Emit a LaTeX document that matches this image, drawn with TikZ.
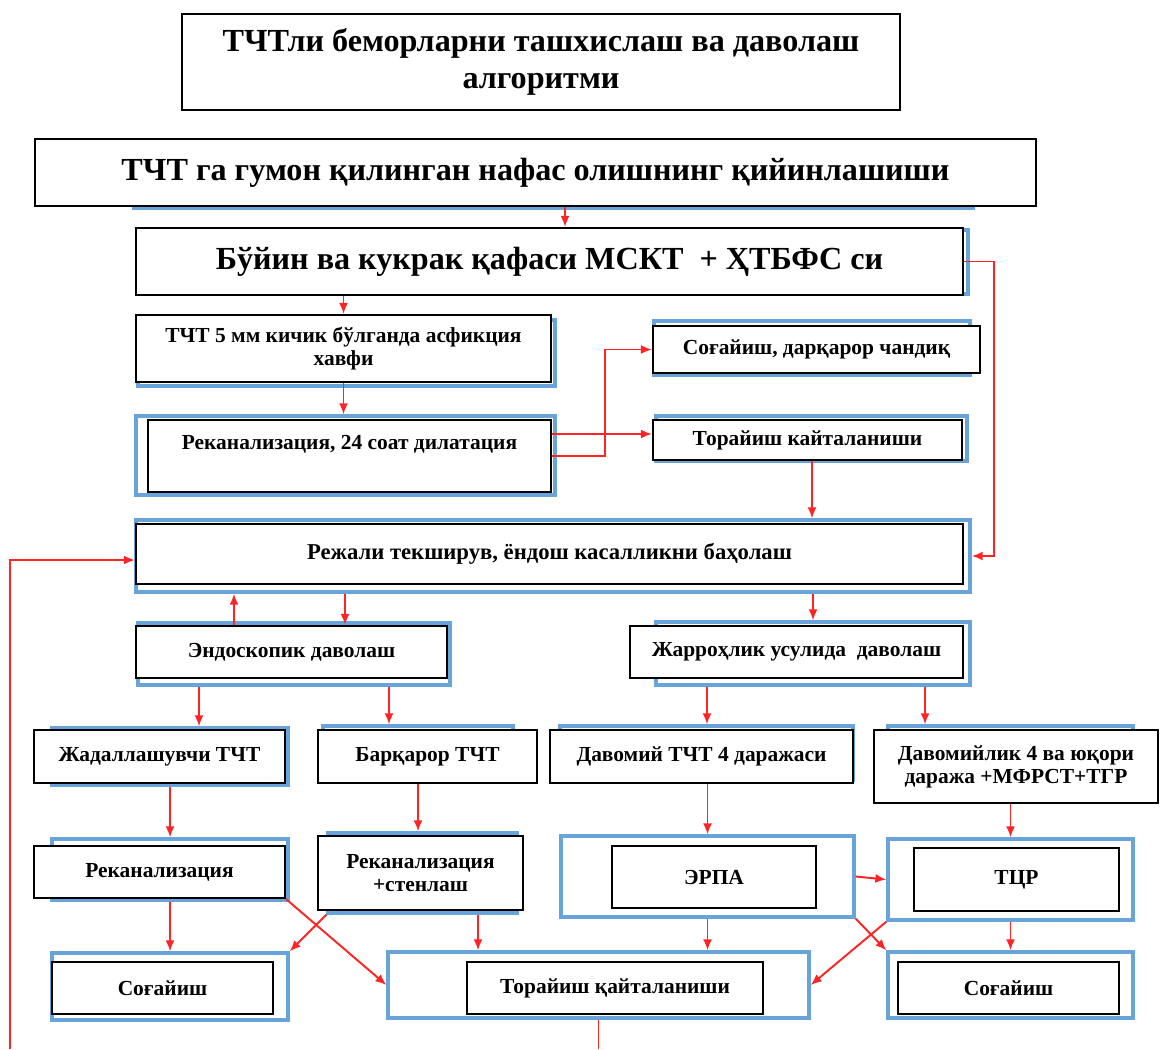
\documentclass[tikz,border=0pt]{standalone}
\usepackage{fontspec}
\setmainfont{Liberation Serif}
\usetikzlibrary{arrows.meta}
\definecolor{frameblue}{RGB}{104,163,218}
\definecolor{linkred}{RGB}{255,35,35}

\begin{document}
\begin{tikzpicture}[
    x=0.2mm, y=-0.2mm,
    font=\bfseries\fontsize{12.2}{13}\selectfont, line width=1.1pt,
    box/.style={draw,fill=white,line width=1.3pt,align=center,inner sep=2pt},
    bluebox/.style={draw=frameblue,line width=1.9pt,inner sep=0pt},
    big/.style={font=\bfseries\fontsize{18.3}{21.5}\selectfont},
    arrow/.style={draw=linkred,-{Latex[length=2.2mm,width=1.8mm]}},
    link/.style={draw=linkred}
]
\path[use as bounding box] (0,0) rectangle (1161,1049);

% blue frames behind the boxes
\node[bluebox,minimum width=167.8mm,minimum height=9.6mm] (suspectF) at (553.5,184.5) {};
\node[bluebox,minimum width=165.6mm,minimum height=12.8mm] (msctF) at (554,262) {};
\node[bluebox,minimum width=83.4mm,minimum height=13.2mm] (riskF) at (346.5,353) {};
\node[bluebox,minimum width=63.2mm,minimum height=10.8mm] (heal0F) at (812,348) {};
\node[bluebox,minimum width=83.8mm,minimum height=15.8mm] (recan24F) at (345.5,455.5) {};
\node[bluebox,minimum width=62.2mm,minimum height=9mm] (narrowF) at (811.5,438.5) {};
\node[bluebox,minimum width=166.8mm,minimum height=14.4mm] (planF) at (553,556) {};
\node[bluebox,minimum width=62.4mm,minimum height=12.4mm] (endoF) at (294,654) {};
\node[bluebox,minimum width=62.8mm,minimum height=12.6mm] (surgF) at (813,653.5) {};
\node[bluebox,minimum width=47.2mm,minimum height=11.4mm] (progF) at (170,756.5) {};
\node[bluebox,minimum width=38mm,minimum height=10.8mm] (stabF) at (418,753) {};
\node[bluebox,minimum width=58.6mm,minimum height=10.8mm] (grade4F) at (706.5,753) {};
\node[bluebox,minimum width=49mm,minimum height=12.8mm] (grade4pF) at (1010.5,758) {};
\node[bluebox,minimum width=47.2mm,minimum height=12.2mm] (recanF) at (170,869.5) {};
\node[bluebox,minimum width=37.8mm,minimum height=16mm] (stentF) at (422.5,873) {};
\node[bluebox,minimum width=58.6mm,minimum height=16.2mm] (erpaF) at (707.5,876.5) {};
\node[bluebox,minimum width=49mm,minimum height=16.2mm] (tcrF) at (1010.5,879.5) {};
\node[bluebox,minimum width=47.2mm,minimum height=13.4mm] (heal1F) at (170,986.5) {};
\node[bluebox,minimum width=84.2mm,minimum height=13.2mm] (tor2F) at (598.5,985) {};
\node[bluebox,minimum width=49mm,minimum height=13.2mm] (heal2F) at (1010.5,985) {};

\node[box,big,minimum width=143.6mm,minimum height=19.2mm] (title) at (541,62)
    {ТЧТли беморларни ташхислаш ва даволаш\\алгоритми};
\node[box,big,minimum width=200.2mm,minimum height=13.4mm] (suspect) at (535.5,172.5)
    {ТЧТ га гумон қилинган нафас олишнинг қийинлашиши};
\node[box,big,minimum width=165.4mm,minimum height=13.4mm] (msct) at (549.5,261.5)
    {Бўйин ва кукрак қафаси МСКТ~ + ҲТБФС си};
\node[box,minimum width=83mm,minimum height=13.4mm] (risk) at (343.5,348.5)
    {ТЧТ 5 мм кичик бўлганда асфикция\\хавфи};
\node[box,minimum width=65.4mm,minimum height=9.4mm] (heal0) at (816.5,349.5)
    {Соғайиш, дарқарор чандиқ};
\node[box,minimum width=80.6mm,minimum height=14.4mm] (recan24) at (349.5,456)
    {Реканализация, 24 соат дилатация\\[2pt]\mbox{}};
\node[box,minimum width=61.8mm,minimum height=8mm] (narrow) at (807.5,440)
    {Торайиш кайталаниши};
\node[box,font=\bfseries\fontsize{12.9}{14}\selectfont,minimum width=165.4mm,minimum height=12mm]
    (plan) at (549.5,554) {Режали текширув, ёндош касалликни баҳолаш};
\node[box,minimum width=62.2mm,minimum height=10.4mm] (endo) at (291.5,652)
    {Эндоскопик даволаш};
\node[box,minimum width=66.6mm,minimum height=10.4mm] (surg) at (796.5,652)
    {Жарроҳлик усулида~ даволаш};
\node[box,minimum width=50.2mm,minimum height=10.6mm] (prog) at (159.5,756.5)
    {Жадаллашувчи ТЧТ};
\node[box,minimum width=43.8mm,minimum height=10.6mm] (stab) at (427.5,756.5)
    {Барқарор ТЧТ};
\node[box,minimum width=60.6mm,minimum height=10.6mm] (grade4) at (701.5,756.5)
    {Давомий ТЧТ 4 даражаси};
\node[box,minimum width=56.8mm,minimum height=14.6mm] (grade4p) at (1016,766.5)
    {Давомийлик 4 ва юқори\\даража +МФРСТ+ТГР};
\node[box,minimum width=50.2mm,minimum height=10.4mm] (recan) at (159.5,872)
    {Реканализация};
\node[box,minimum width=41mm,minimum height=14.8mm] (stent) at (420.5,873)
    {Реканализация\\+стенлаш};
\node[box,minimum width=40.8mm,minimum height=12.4mm] (erpa) at (714,877) {ЭРПА};
\node[box,minimum width=41mm,minimum height=12.6mm] (tcr) at (1016.5,879.5) {ТЦР};
\node[box,minimum width=44.2mm,minimum height=10.4mm] (heal1) at (162.5,988) {Соғайиш};
\node[box,minimum width=59.2mm,minimum height=10.4mm] (tor2) at (615,988)
    {Торайиш қайталаниши};
\node[box,minimum width=44.2mm,minimum height=10.4mm] (heal2) at (1008.5,988) {Соғайиш};

% loose ends at the lower edge
\coordinate (exitR) at (598.5,1049);
\coordinate (exitL) at (10,1049);

\draw[arrow] ([xshift=3.1mm]msct.north |- suspect.south) -- ([xshift=3.1mm]msct.north);
\draw[arrow] (risk.north |- msct.south) -- (risk.north);
\draw[arrow] (msct.east) -- ++(6mm,0) |- (planF.east);
\draw[arrow] (risk.south) -- (risk.south |- recan24F.north);
\draw[arrow] ([yshift=4.4mm]recan24.east) -- ([yshift=4.4mm]recan24.east -| narrow.west);
\draw[arrow] (recan24.east) -- ++(10.6mm,0) |- (heal0.west);
\draw[arrow] ([xshift=0.9mm]narrow.south) -- ([xshift=0.9mm]narrow.south |- planF.north);
\draw[arrow] ([xshift=-11.5mm]endo.north) -- ([xshift=-11.5mm]endo.north |- planF.south);
\draw[arrow] ([xshift=10.7mm]endo.north |- planF.south) -- ([xshift=10.7mm]endo.north);
\draw[arrow] (surgF.north |- planF.south) -- (surgF.north);
\draw[arrow] ([xshift=-19mm]endoF.south) -- ([xshift=-19mm]endoF.south |- progF.north);
\draw[arrow] ([xshift=19mm]endoF.south) -- ([xshift=19mm]endoF.south |- stabF.north);
\draw[arrow] ([xshift=-21.2mm]surgF.south) -- ([xshift=-21.2mm]surgF.south |- grade4F.north);
\draw[arrow] ([xshift=22.4mm]surgF.south) -- ([xshift=22.4mm]surgF.south |- grade4pF.north);
\draw[arrow] (progF.south) -- (recanF.north);
\draw[arrow] (stabF.south |- stab.south) -- (stabF.south |- stentF.north);
\draw[arrow] (erpaF.north |- grade4.south) -- (erpaF.north);
\draw[arrow] (tcrF.north |- grade4p.south) -- (tcrF.north);
\draw[arrow] (erpaF.east) -- (tcrF.west);
\draw[arrow] (recanF.south) -- (heal1F.north);
\draw[arrow] (recan.south east) -- (tor2F.west);
\draw[arrow] (stentF.south west) -- (heal1F.north east);
\draw[arrow] ([xshift=11.1mm]stentF.south) -- ([xshift=11.1mm]stentF.south |- tor2F.north);
\draw[arrow] (erpaF.south) -- (erpaF.south |- tor2F.north);
\draw[arrow] (erpaF.south east) -- (heal2F.north west);
\draw[arrow] (tcrF.south west) -- (tor2F.east);
\draw[arrow] (tcrF.south) -- (heal2F.north);
\draw[link] (tor2F.south) -- (exitR);
\draw[arrow] (exitL) |- ([yshift=-1.2mm]plan.west);
\end{tikzpicture}
\end{document}
